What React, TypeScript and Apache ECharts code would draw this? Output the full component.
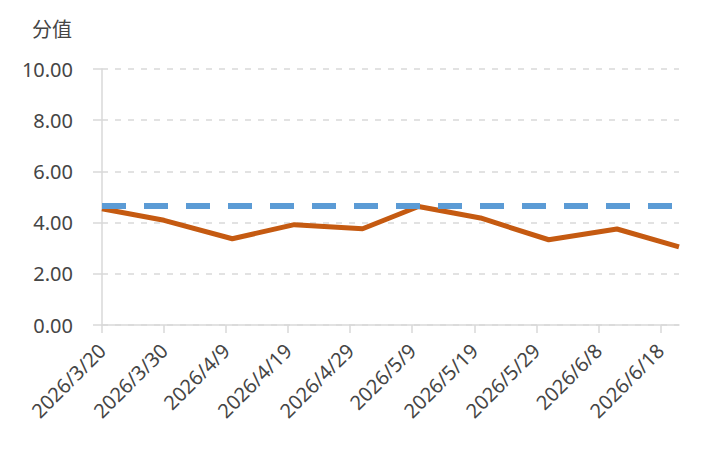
import React, { useEffect, useRef } from "react";
import * as echarts from "echarts";

// Sampling dates and scores
const dates = [
  "2026/3/20",
  "2026/3/30",
  "2026/4/10",
  "2026/4/20",
  "2026/5/1",
  "2026/5/10",
  "2026/5/20",
  "2026/5/31",
  "2026/6/11",
  "2026/6/21",
];
const scores = [4.54, 4.09, 3.37, 3.92, 3.76, 4.63, 4.18, 3.33, 3.75, 3.05];
const benchmark = [4.65, 4.65, 4.65, 4.65, 4.65, 4.65, 4.65, 4.65, 4.65, 4.65];

// Date-axis tick labels, every ten days
const tickLabels = [
  "2026/3/20",
  "2026/3/30",
  "2026/4/9",
  "2026/4/19",
  "2026/4/29",
  "2026/5/9",
  "2026/5/19",
  "2026/5/29",
  "2026/6/8",
  "2026/6/18",
];

const yTicks = [0, 2, 4, 6, 8, 10];

const DAY = 86400000;
const toUTC = (s: string) => {
  const [y, m, d] = s.split("/").map(Number);
  return Date.UTC(y, m - 1, d);
};
const origin = toUTC(dates[0]);
const dayOffset = (s: string) => Math.round((toUTC(s) - origin) / DAY);

const xs = dates.map(dayOffset);
const tickOffsets = tickLabels.map(dayOffset);

const FONT = '"Noto Sans", "Noto Sans CJK SC", sans-serif';
const TEXT = "#454545";
const GRID = "#d9d9d9";

export default function App() {
  const ref = useRef<HTMLDivElement>(null);

  useEffect(() => {
    if (!ref.current) return;
    const chart = echarts.init(ref.current, undefined, { renderer: "svg" });
    chart.setOption({
      animation: false,
      backgroundColor: "#ffffff",
      textStyle: { fontFamily: FONT },
      grid: { left: 102, right: 30, top: 69, bottom: 144 },
      xAxis: {
        type: "value",
        min: 0,
        max: xs[xs.length - 1],
        axisLine: { show: true, lineStyle: { color: GRID, width: 1.5 } },
        axisTick: {
          show: true,
          length: 8,
          customValues: tickOffsets,
          lineStyle: { color: GRID, width: 1.5 },
        },
        splitLine: { show: false },
        axisLabel: {
          customValues: tickOffsets,
          rotate: 45,
          margin: 22,
          color: TEXT,
          fontSize: 20,
          fontFamily: FONT,
          formatter: (v: number) => {
            const i = tickOffsets.indexOf(Math.round(v));
            return i >= 0 ? tickLabels[i] : "";
          },
        },
      },
      yAxis: {
        type: "value",
        min: yTicks[0],
        max: yTicks[yTicks.length - 1],
        interval: 2,
        name: "分值",
        nameLocation: "end",
        nameGap: 40,
        nameTextStyle: {
          color: TEXT,
          fontSize: 20,
          fontFamily: FONT,
          align: "right",
          verticalAlign: "middle",
          padding: [0, 30, 0, 0],
        },
        axisLine: { show: true, lineStyle: { color: GRID, width: 1.5 } },
        axisTick: { show: true, length: 9, lineStyle: { color: GRID, width: 1.5 } },
        splitLine: {
          show: true,
          lineStyle: { color: GRID, width: 1.5, type: [6, 7] },
        },
        axisLabel: {
          color: TEXT,
          fontSize: 20,
          fontFamily: FONT,
          margin: 29,
          formatter: (v: number) => v.toFixed(2),
        },
      },
      series: [
        {
          name: "分值",
          type: "line",
          data: xs.map((x, i) => [x, scores[i]]),
          showSymbol: false,
          lineStyle: { color: "#c55a11", width: 5 },
          itemStyle: { color: "#c55a11" },
          z: 2,
        },
        {
          name: "基准",
          type: "line",
          data: xs.map((x, i) => [x, benchmark[i]]),
          showSymbol: false,
          lineStyle: { color: "#5b9bd5", width: 6, type: [24, 18] },
          itemStyle: { color: "#5b9bd5" },
          z: 3,
        },
      ],
    });
    return () => chart.dispose();
  }, []);

  return (
    <div
      ref={ref}
      style={{ position: "fixed", left: 0, top: 0, width: 709, height: 469 }}
    />
  );
}
